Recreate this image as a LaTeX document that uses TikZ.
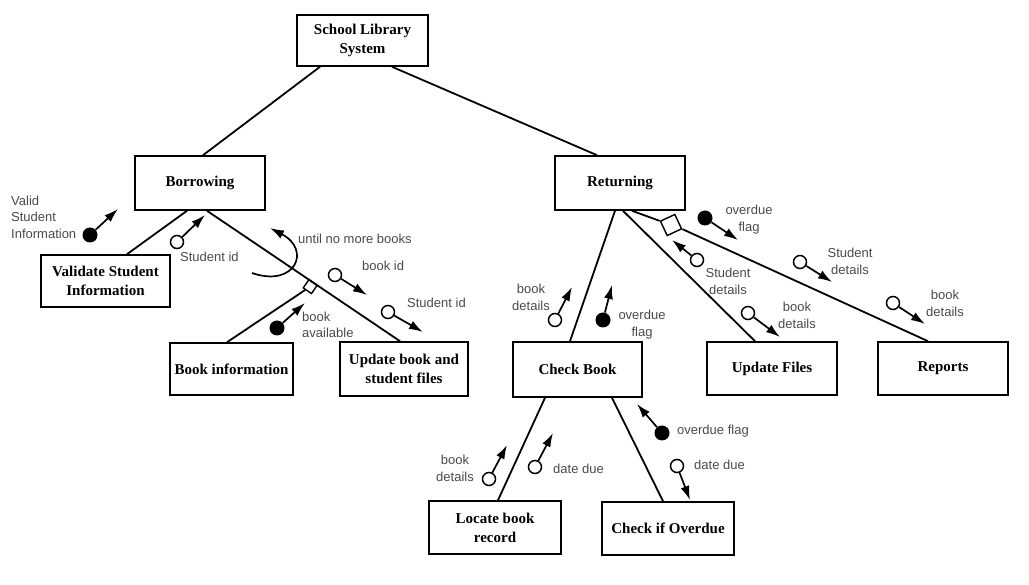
\documentclass[tikz,border=0pt]{standalone}
\usepackage{fontspec}
\setmainfont{Liberation Serif}
\setsansfont{Liberation Sans}
\usetikzlibrary{arrows.meta,shapes.geometric}
\definecolor{lblgray}{HTML}{4a4a4a}
\tikzset{
  box/.style={draw, line width=1.6pt, inner sep=0pt, align=center, fill=white,
    font=\bfseries\fontsize{15}{19}\selectfont},
  oc/.style={circle, draw, line width=1.5pt, fill=white, minimum size=13pt, inner sep=0pt},
  fc/.style={circle, fill=black, minimum size=15pt, inner sep=0pt},
  carrow/.style={line width=1.7pt, -{Latex[length=14pt,width=9pt]}},
  lbl/.style={font=\sffamily\fontsize{13}{16.5}\selectfont, text=lblgray, inner sep=0pt},
  conn/.style={line width=1.8pt},
}
\begin{document}
\begin{tikzpicture}[x=1pt,y=-1pt]
\useasboundingbox (0,0) rectangle (1029,585);
% boxes
\node[box, minimum width=131, minimum height=51] (sls) at (362.5,40.5) {School Library\\System};
\node[box, minimum width=130, minimum height=54] (bor) at (200,183) {Borrowing};
\node[box, minimum width=130, minimum height=54] (ret) at (620,183) {Returning};
\node[box, minimum width=129, minimum height=52] (val) at (105.5,281) {Validate Student\\Information};
\node[box, minimum width=123, minimum height=52] (bki) at (231.5,369) {Book information};
\node[box, minimum width=128, minimum height=54] (upd) at (404,369) {Update book and\\student files};
\node[box, minimum width=129, minimum height=55] (chk) at (577.5,369.5) {Check Book};
\node[box, minimum width=130, minimum height=53] (upf) at (772,368.5) {Update Files};
\node[box, minimum width=130, minimum height=53] (rep) at (943,368.5) {Reports};
\node[box, minimum width=132, minimum height=53] (loc) at (495,527.5) {Locate book\\record};
\node[box, minimum width=132, minimum height=53] (cio) at (668,528.5) {Check if Overdue};
% diamonds (selection / iteration markers)
\node[draw, fill=white, minimum size=10pt, inner sep=0pt, rotate=-34.4, line width=1.4pt] (dm1) at (310.2,286.6) {};
\node[draw, diamond, aspect=1, minimum size=23pt, inner sep=0pt, fill=white, rotate=-20, line width=1.4pt] (dm2) at (671,225) {};
% connectors
\draw[conn] ([xshift=-42.5pt]sls.south) -- ([xshift=3pt]bor.north);
\draw[conn] ([xshift=29.5pt]sls.south) -- ([xshift=-23pt]ret.north);
\draw[conn] ([xshift=-13pt]bor.south) -- ([xshift=21.5pt]val.north);
\draw[conn] ([xshift=7pt]bor.south) -- ([xshift=-4pt]upd.north);
\draw[conn] ([xshift=-4.5pt]bki.north) -- (dm1);
\draw[conn] ([xshift=-5pt]ret.south) -- ([xshift=-7.5pt]chk.north);
\draw[conn] ([xshift=3pt]ret.south) -- ([xshift=-17pt]upf.north);
\draw[conn] ([xshift=12pt]ret.south) -- (dm2.west);
\draw[conn] (dm2.east) -- ([xshift=-15pt]rep.north);
\draw[conn] ([xshift=-32.5pt]chk.south) -- ([xshift=3pt]loc.north);
\draw[conn] ([xshift=34.5pt]chk.south) -- ([xshift=-5pt]cio.north);
% loop
\coordinate (lp0) at (252,273);
\coordinate (lp1) at (270,228);
\draw[carrow] (lp0) .. controls (295,288) and (312,250) .. (lp1);
\node[lbl, anchor=west] (tloop) at (298,239) {until no more books};
% couples - borrowing
\node[fc] (c1) at (90,235) {}; \coordinate (c1t) at (118,209); \draw[carrow] (c1) -- (c1t);
\node[lbl, anchor=west, align=left] (t1) at (11,217) {Valid\\Student\\Information};
\node[oc] (c2) at (177,242) {}; \coordinate (c2t) at (205,215); \draw[carrow] (c2) -- (c2t);
\node[lbl, anchor=west] (t2) at (180,257) {Student id};
\node[oc] (c3) at (335,275) {}; \coordinate (c3t) at (367,295); \draw[carrow] (c3) -- (c3t);
\node[lbl, anchor=west] (t3) at (362,266) {book id};
\node[oc] (c4) at (388,312) {}; \coordinate (c4t) at (423,332); \draw[carrow] (c4) -- (c4t);
\node[lbl, anchor=west] (t4) at (407,303) {Student id};
\node[fc] (c5) at (277,328) {}; \coordinate (c5t) at (305,303); \draw[carrow] (c5) -- (c5t);
\node[lbl, anchor=west, align=left] (t5) at (302,325) {book\\available};
% couples - returning
\node[fc] (c6) at (705,218) {}; \coordinate (c6t) at (738,240); \draw[carrow] (c6) -- (c6t);
\node[lbl, align=center] (t6) at (749,219.5) {overdue\\flag};
\node[oc] (c7) at (697,260) {}; \coordinate (c7t) at (672,240); \draw[carrow] (c7) -- (c7t);
\node[lbl, align=center] (t7) at (728,281.5) {Student\\details};
\node[oc] (c8) at (800,262) {}; \coordinate (c8t) at (832,282); \draw[carrow] (c8) -- (c8t);
\node[lbl, align=center] (t8) at (850,261.5) {Student\\details};
\node[oc] (c9) at (748,313) {}; \coordinate (c9t) at (780,337); \draw[carrow] (c9) -- (c9t);
\node[lbl, align=center] (t9) at (797,315.5) {book\\details};
\node[oc] (c10) at (893,303) {}; \coordinate (c10t) at (925,324); \draw[carrow] (c10) -- (c10t);
\node[lbl, align=center] (t10) at (945,303.5) {book\\details};
\node[oc] (c11) at (555,320) {}; \coordinate (c11t) at (572,287); \draw[carrow] (c11) -- (c11t);
\node[lbl, align=center] (t11) at (531,297.5) {book\\details};
\node[fc] (c12) at (603,320) {}; \coordinate (c12t) at (612,285); \draw[carrow] (c12) -- (c12t);
\node[lbl, align=center] (t12) at (642,324.5) {overdue\\flag};
% couples - check book
\node[oc] (c13) at (489,479) {}; \coordinate (c13t) at (507,445); \draw[carrow] (c13) -- (c13t);
\node[lbl, align=center] (t13) at (455,468.5) {book\\details};
\node[oc] (c14) at (535,467) {}; \coordinate (c14t) at (553,433); \draw[carrow] (c14) -- (c14t);
\node[lbl, anchor=west] (t14) at (553,469) {date due};
\node[fc] (c15) at (662,433) {}; \coordinate (c15t) at (637,404); \draw[carrow] (c15) -- (c15t);
\node[lbl, anchor=west] (t15) at (677,431) {overdue flag};
\node[oc] (c16) at (677,466) {}; \coordinate (c16t) at (690,500); \draw[carrow] (c16) -- (c16t);
\node[lbl, anchor=west] (t16) at (694,465) {date due};
\end{tikzpicture}
\end{document}
